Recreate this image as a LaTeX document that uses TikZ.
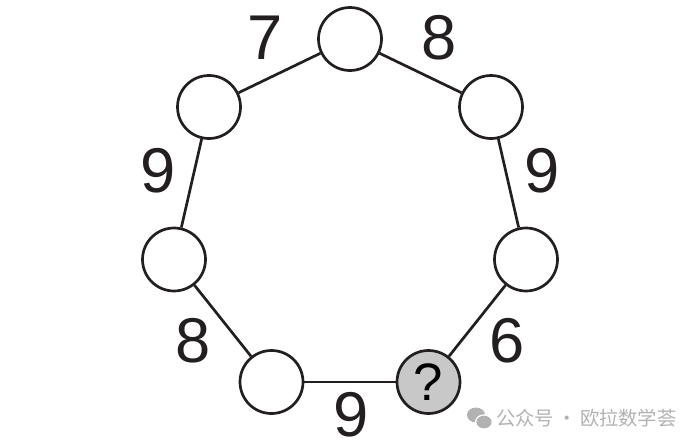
\documentclass[tikz,border=0pt]{standalone}
\usepackage{fontspec}
\setmainfont{Liberation Sans}
\newfontfamily\cjkfont{Noto Sans CJK SC}
\usetikzlibrary{positioning}

\definecolor{ink}{RGB}{35,31,32}
\definecolor{qgray}{RGB}{200,200,200}
\definecolor{markgray}{RGB}{178,178,178}

\tikzset{
  dot/.style={circle, draw=ink, line width=2.3pt, minimum size=1.89cm, inner sep=0pt, fill=white},
  num/.style={inner sep=0pt, text=ink, font=\fontsize{54}{60}\selectfont},
  link/.style={draw=ink, line width=2.3pt}
}

\begin{document}
\begin{tikzpicture}[x=0.03cm,y=-0.03cm]
          \useasboundingbox (0,0) rectangle (697,445);
          % the seven circles
          \node[dot] at (350,39) (top) {};
          \node[dot] at (491,107) (ur) {};
          \node[dot] at (526,259.5) (r) {};
          \node[dot, fill=qgray] at (428.5,382) (q) {\fontsize{45}{50}\selectfont ?};
          \node[dot] at (271.5,382) (bl) {};
          \node[dot] at (174,259.5) (l) {};
          \node[dot] at (209,107) (ul) {};
          \draw[link] (top) -- (ur);
          \draw[link] (ur) -- (r);
          \draw[link] (r) -- (q);
          \draw[link] (q) -- (bl);
          \draw[link] (bl) -- (l);
          \draw[link] (l) -- (ul);
          \draw[link] (ul) -- (top);
          % numbers on the sides
          \node[num] at (265,37.5) (n7) {7};
          \node[num] at (439,37.5) (n8a) {8};
          \node[num] at (542,170.5) (n9a) {9};
          \node[num] at (507,340.5) (n6) {6};
          \node[num] at (351,415) (n9b) {9};
          \node[num] at (193,340.5) (n8b) {8};
          \node[num] at (158,170.5) (n9c) {9};
          % watermark
          \fill[markgray] (476,415) ellipse (9 and 7.5);
          \fill[white] (484,422) ellipse (9 and 7.7);
          \fill[markgray] (484,422) ellipse (7.6 and 6.3);
          \node[anchor=west, inner sep=0pt, text=markgray, font=\cjkfont\fontsize{16.5}{20}\selectfont] at (496,418) (mark) {公众号\,·\,欧拉数学荟};
        \end{tikzpicture}
\end{document}
